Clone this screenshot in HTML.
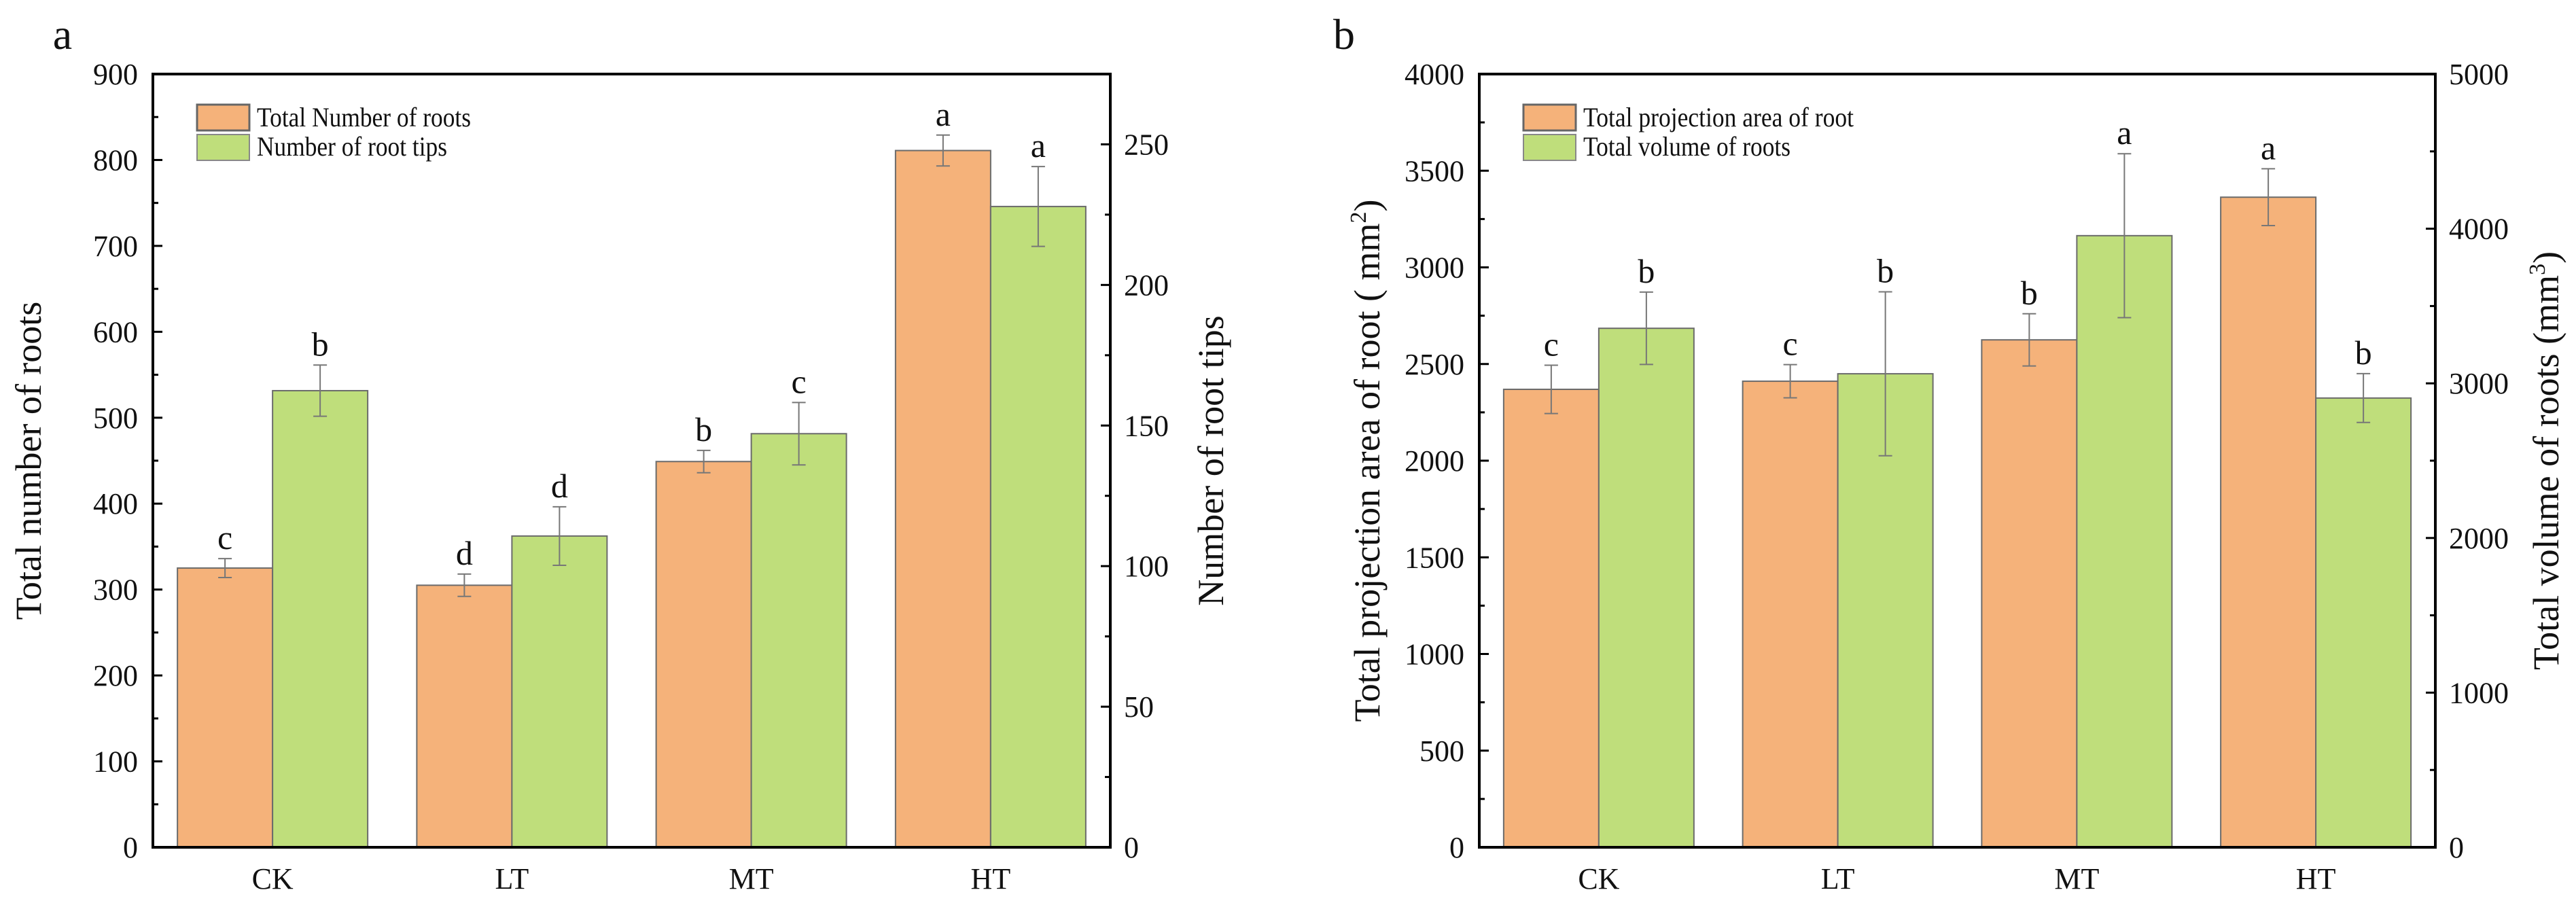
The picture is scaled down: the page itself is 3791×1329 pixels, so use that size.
<!DOCTYPE html>
<html><head><meta charset="utf-8"><style>
html,body{margin:0;padding:0;background:#fff;}
svg{display:block;font-family:"Liberation Serif",serif;}
</style></head><body>
<svg id="chart" width="3791" height="1329" viewBox="0 0 3791 1329" xmlns="http://www.w3.org/2000/svg"></svg>
<script>
const categories = ["CK","LT","MT","HT"];
// Panel a
const aLeftVals = [325, 305, 449, 811];
const aLeftErr = [11, 13, 13, 18];
const aLeftLetters = ["c","d","b","a"];
const aRightVals = [162.4, 110.7, 147.1, 227.9];
const aRightErr = [9.1, 10.4, 11.1, 14.2];
const aRightLetters = ["b","d","c","a"];
const aLeftTicks = [0,100,200,300,400,500,600,700,800,900];
const aRightTicks = [0,50,100,150,200,250];
// Panel b
const bLeftVals = [2369, 2411, 2625, 3363];
const bLeftErr = [125, 86, 135, 147];
const bLeftLetters = ["c","c","b","a"];
const bRightVals = [3356, 3062, 3955, 2905];
const bRightErr = [234, 530, 530, 158];
const bRightLetters = ["b","b","a","b"];
const bLeftTicks = [0,500,1000,1500,2000,2500,3000,3500,4000];
const bRightTicks = [0,1000,2000,3000,4000,5000];

const NS = "http://www.w3.org/2000/svg";
const svg = document.getElementById('chart');
function mk(tag, attrs, parent, text){
  const e = document.createElementNS(NS, tag);
  for (const k in attrs) e.setAttribute(k, attrs[k]);
  if (text !== undefined) e.textContent = text;
  (parent||svg).appendChild(e);
  return e;
}

function panel(cfg){
  const g = mk('g', {});
  
  
  const L = cfg.x0, R = cfg.x1, T = 109, B = 1247;
  const yL = v => B - (v / cfg.lMax) * (B - T);
  const yR = v => B - (v / cfg.rMax) * (B - T);
  const step = (R - L) / categories.length;
  const bw = 140;
  // bars
  categories.forEach((c, i) => {
    const cx = L + step * (i + 0.5);
    const series = [
      {v: cfg.lv[i], e: cfg.le[i], t: cfg.ll[i], y: yL, fill: '#F5B27A', x: cx - bw, nm: 'bar-left-' + c.toLowerCase()},
      {v: cfg.rv[i], e: cfg.re[i], t: cfg.rl[i], y: yR, fill: '#BFDE7B', x: cx, nm: 'bar-right-' + c.toLowerCase()}
    ];
    series.forEach(s => {
      const top = s.y(s.v);
      const r = mk('rect', {x: s.x, y: top, width: bw, height: B - top, fill: s.fill, stroke: '#6b6b6b', 'stroke-width': 2}, g);
      
      
      const mx = s.x + bw / 2, y1 = s.y(s.v + s.e), y2 = s.y(s.v - s.e);
      const eb = mk('path', {d: `M${mx},${y1}V${y2}M${mx-10},${y1}H${mx+10}M${mx-10},${y2}H${mx+10}`, stroke: '#777', 'stroke-width': 2, fill: 'none'}, g);
      
      
      const lt = mk('text', {x: mx, y: y1 - 14, 'font-size': 50, 'text-anchor': 'middle', fill: '#111'}, g, s.t);
      
      
    });
    const ct = mk('text', {x: cx, y: 1308, 'font-size': 44, 'text-anchor': 'middle', fill: '#111'}, g, c);
    
    
  });
  // ticks left
  cfg.lt.forEach((t, i) => {
    const y = yL(t);
    mk('line', {x1: L, x2: L + 14, y1: y, y2: y, stroke: '#000', 'stroke-width': 3}, g);
    if (i < cfg.lt.length - 1) {
      const ym = yL(t + (cfg.lt[1] - cfg.lt[0]) / 2);
      mk('line', {x1: L, x2: L + 8, y1: ym, y2: ym, stroke: '#000', 'stroke-width': 3}, g);
    }
    const tx = mk('text', {x: L - 22, y: y + 15, 'font-size': 44, 'text-anchor': 'end', fill: '#111'}, g, t);
    
    
  });
  cfg.rt.forEach((t, i) => {
    const y = yR(t);
    mk('line', {x1: R, x2: R - 14, y1: y, y2: y, stroke: '#000', 'stroke-width': 3}, g);
    const ym = yR(t + (cfg.rt[1] - cfg.rt[0]) / 2);
    if (ym > T + 5) mk('line', {x1: R, x2: R - 8, y1: ym, y2: ym, stroke: '#000', 'stroke-width': 3}, g);
    const tx = mk('text', {x: R + 20, y: y + 15, 'font-size': 44, 'text-anchor': 'start', fill: '#111'}, g, t);
    
    
  });
  // frame
  const fr = mk('rect', {x: L, y: T, width: R - L, height: B - T, fill: 'none', stroke: '#000', 'stroke-width': 4}, g);
  
  
  // legend
  const lg = mk('g', {}, g);
  
  
  mk('rect', {x: L + 65, y: 154, width: 77, height: 38, fill: '#F5B27A', stroke: '#666', 'stroke-width': 3}, lg);
  mk('rect', {x: L + 65, y: 198, width: 77, height: 38, fill: '#BFDE7B', stroke: '#888', 'stroke-width': 2}, lg);
  const l1 = mk('text', {x: L + 153, y: 186, 'font-size': 40, fill: '#111', textLength: cfg.leg1w, lengthAdjust: 'spacingAndGlyphs'}, lg, cfg.leg1);
  
  
  const l2 = mk('text', {x: L + 153, y: 229, 'font-size': 40, fill: '#111', textLength: cfg.leg2w, lengthAdjust: 'spacingAndGlyphs'}, lg, cfg.leg2);
  
  
  // titles
  const t1 = mk('text', {x: cfg.ltx, y: 678, 'font-size': 54, 'text-anchor': 'middle', fill: '#111', transform: `rotate(-90 ${cfg.ltx} 678)`}, g);
  t1.innerHTML = cfg.ltitle;
  
  
  const t2 = mk('text', {x: cfg.rtx, y: 678, 'font-size': 54, 'text-anchor': 'middle', fill: '#111', transform: `rotate(-90 ${cfg.rtx} 678)`}, g);
  t2.innerHTML = cfg.rtitle;
  
  
  const pl = mk('text', {x: cfg.px, y: 72, 'font-size': 64, 'text-anchor': 'middle', fill: '#111'}, g, cfg.plabel);
  
  
}

panel({name: 'panel-a', x0: 225, x1: 1634, lMax: 900, rMax: 275,
  lv: aLeftVals, le: aLeftErr, ll: aLeftLetters, rv: aRightVals, re: aRightErr, rl: aRightLetters,
  lt: aLeftTicks, rt: aRightTicks,
  leg1: 'Total Number of roots', leg1w: 315, leg2: 'Number of root tips', leg2w: 280,
  ltx: 60, rtx: 1800, ltitle: 'Total number of roots', rtitle: 'Number of root tips', px: 92, plabel: 'a'});
panel({name: 'panel-b', x0: 2177, x1: 3584, lMax: 4000, rMax: 5000,
  lv: bLeftVals, le: bLeftErr, ll: bLeftLetters, rv: bRightVals, re: bRightErr, rl: bRightLetters,
  lt: bLeftTicks, rt: bRightTicks,
  leg1: 'Total projection area of root', leg1w: 398, leg2: 'Total volume of roots', leg2w: 305,
  ltx: 2030, rtx: 3765,
  ltitle: 'Total projection area of root ( mm<tspan dy="-20" font-size="34">2</tspan><tspan dy="20">)</tspan>',
  rtitle: 'Total volume of roots (mm<tspan dy="-20" font-size="34">3</tspan><tspan dy="20">)</tspan>',
  px: 1978, plabel: 'b'});
</script>
</body></html>
